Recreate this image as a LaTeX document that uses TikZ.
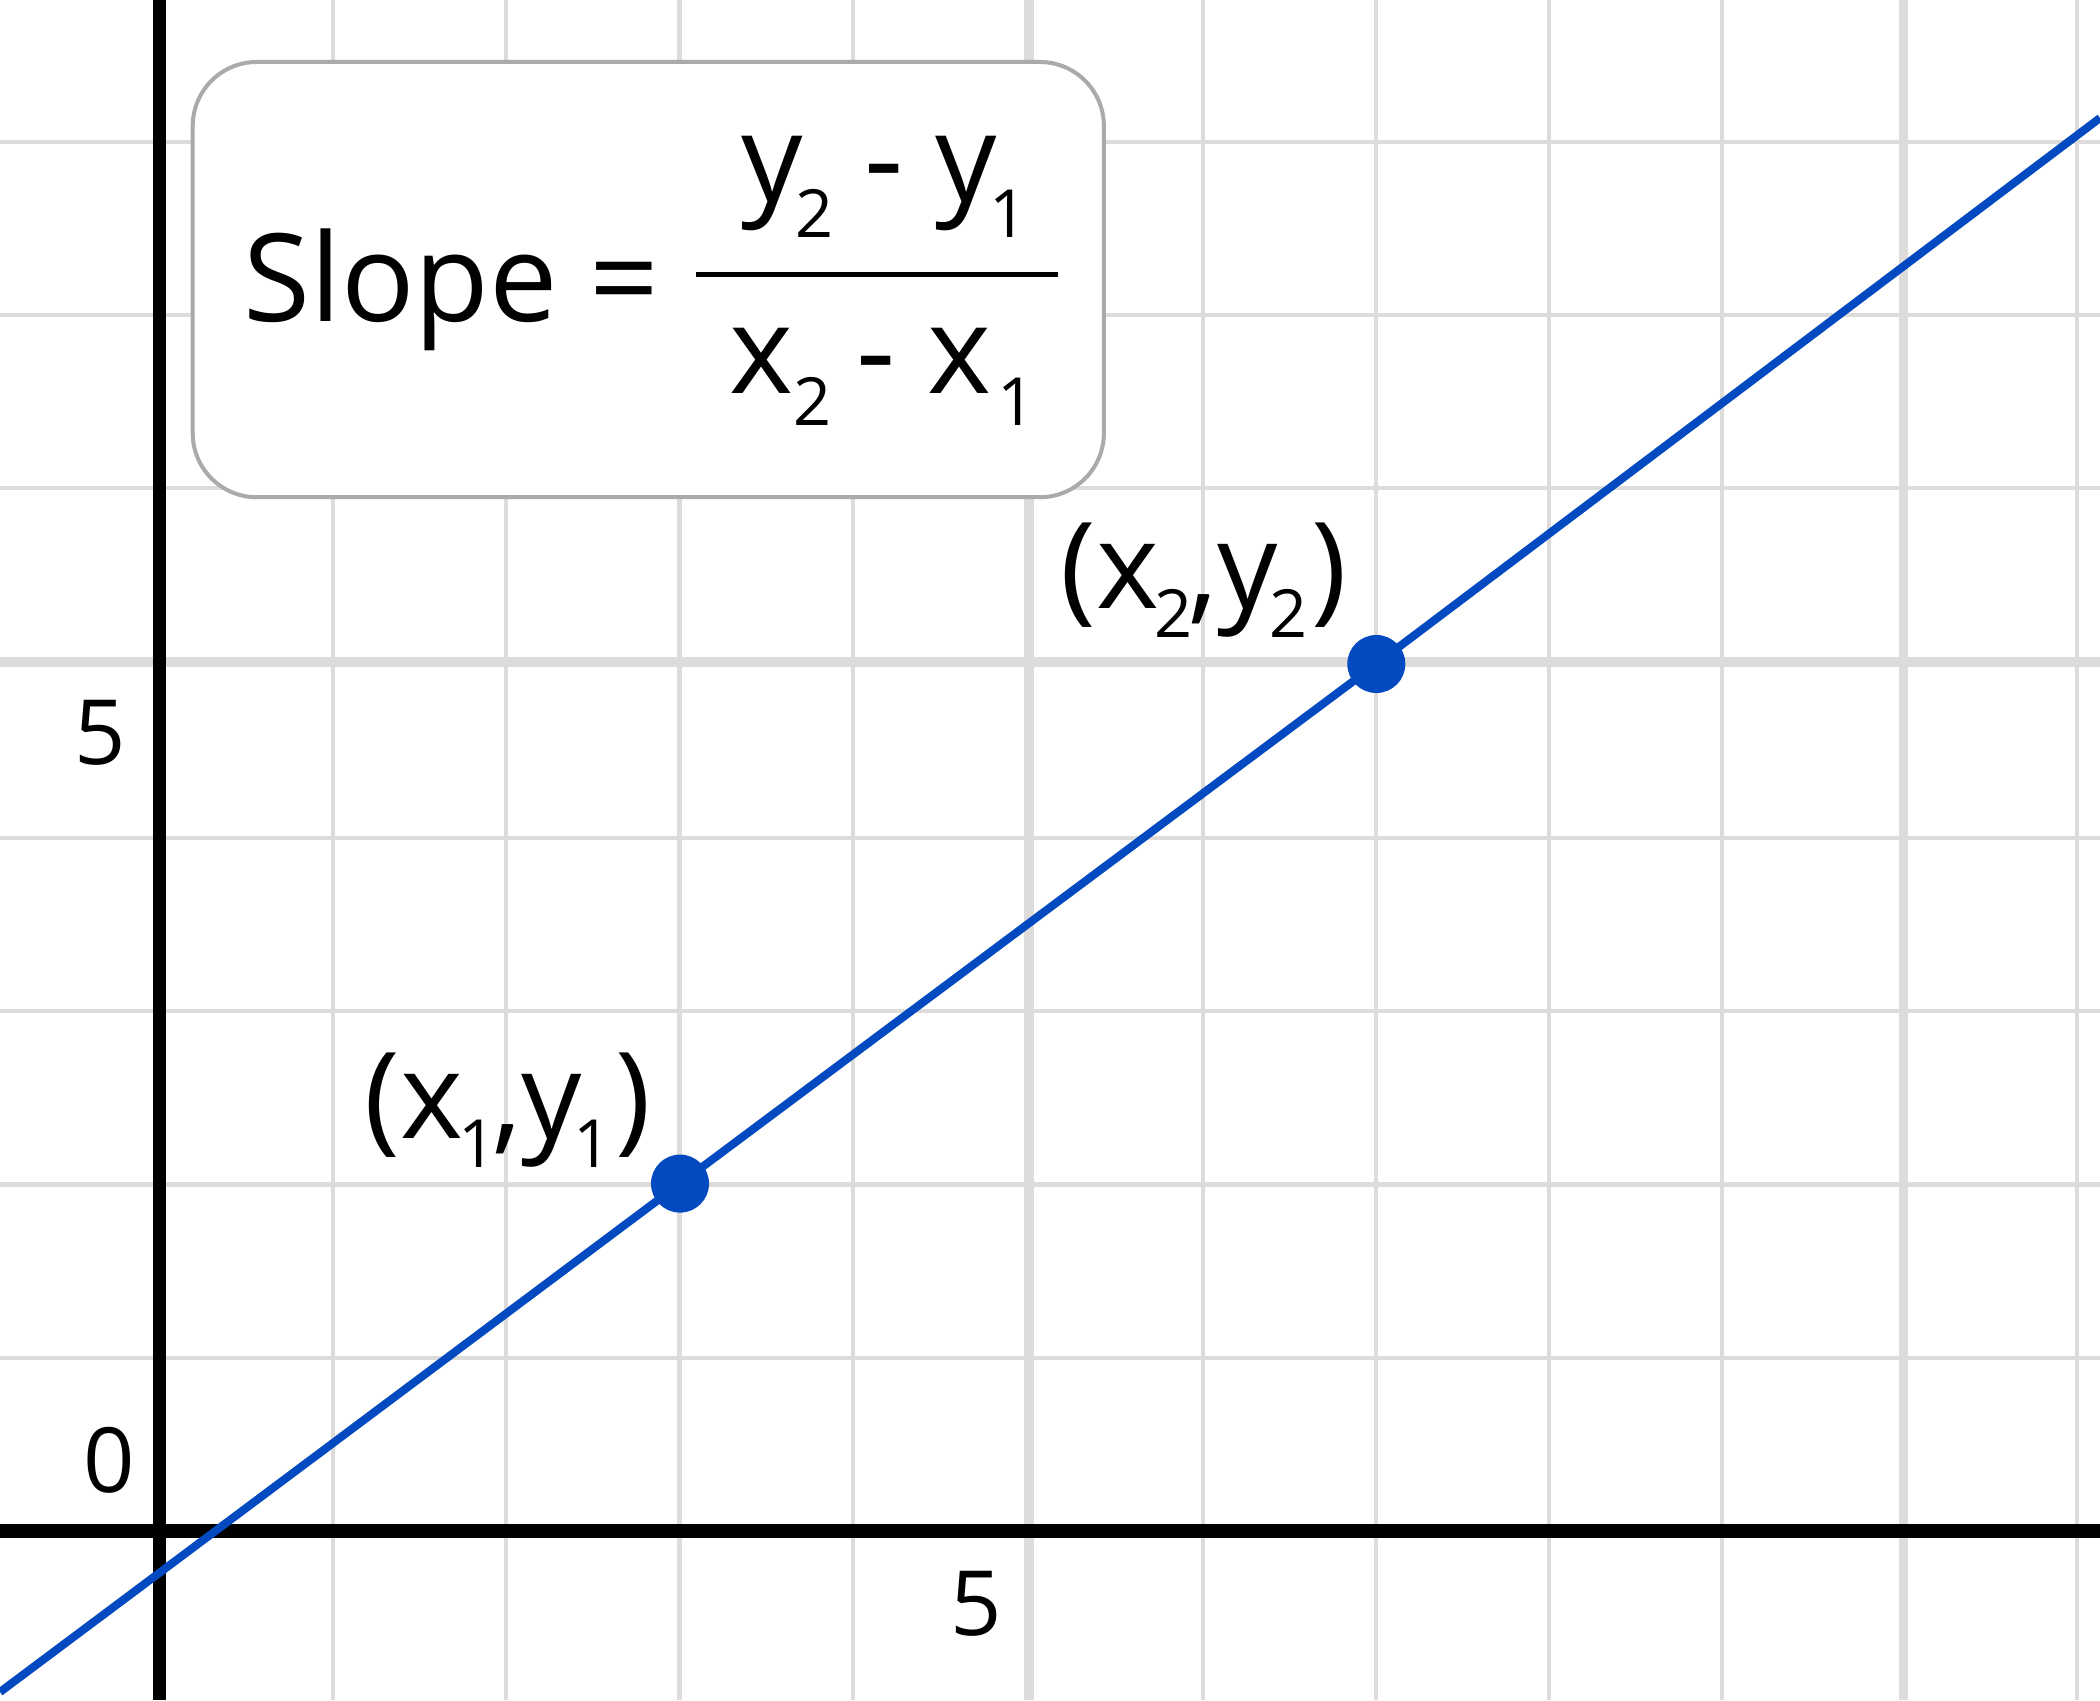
\documentclass[tikz,border=0pt]{standalone}
\usepackage{fontspec}
\setmainfont{Open Sans}
\definecolor{gridc}{HTML}{DDDCDA}
\definecolor{lineblue}{HTML}{0349C0}
\definecolor{boxc}{HTML}{AAAAAA}
\newcommand\subsc[2][9pt]{\raisebox{-#1}{\fontsize{18.9pt}{20pt}\selectfont #2}}
\tikzset{
  gridthin/.style={draw=gridc, line width=1.25pt},
  gridthick/.style={draw=gridc, line width=2.7pt},
  axisline/.style={draw=black, line width=3.75pt},
  blueline/.style={draw=lineblue, line width=2.3pt},
  dotnode/.style={circle, fill=lineblue, minimum size=0.58cm, inner sep=0pt},
  formbox/.style={draw=boxc, line width=1.14pt, fill=white, rounded corners=0.64cm,
    minimum width=9.106cm, minimum height=4.35cm, inner sep=0pt},
  bigtxt/.style={inner sep=0pt, anchor=base west, font=\fontsize{34.7pt}{40pt}\selectfont},
  lbltxt/.style={inner sep=0pt, anchor=base west, font=\fontsize{34.1pt}{40pt}\selectfont},
  ticktxt/.style={inner sep=0pt, anchor=base west, font=\fontsize{25.6pt}{30pt}\selectfont},
}
\begin{document}
\begin{tikzpicture}[x=0.01cm,y=-0.01cm]
\useasboundingbox (0,0) rectangle (2100,1700);
\fill[white] (0,0) rectangle (2100,1700);
% grid
\foreach \x in {333,506,679.5,853,1202.7,1376,1548.7,1722,2077}
  \draw[gridthin] (\x,0) -- (\x,1700);
\foreach \x in {1029,1903.6}
  \draw[gridthick] (\x,0) -- (\x,1700);
\foreach \y in {141.8,315,488,837.8,1011.2,1184.6,1357.9}
  \draw[gridthin] (0,\y) -- (2100,\y);
\draw[gridthick] (0,661.8) -- (2100,661.8);
% axes
\draw[axisline] (159.8,0) -- (159.8,1700);
\draw[axisline] (0,1531) -- (2100,1531);
% tick labels
\node[ticktxt] (t5y) at (74,764.7) {5};
\node[ticktxt] (t0) at (83,1492.9) {0};
\node[ticktxt] (t5x) at (950,1635.7) {5};
% formula box
\node[formbox] (box) at (648.3,279.6) {};
\node[bigtxt] (slope) at (242.7,321.4) {Slope =};
\node[bigtxt] (num) at (741,201.8) {y\kern-2.3pt\subsc[10.2pt]{2} - y\kern-2.3pt\subsc[10.2pt]{1}};
\node[bigtxt] (den) at (729,393) {x\subsc[9.1pt]{2}\kern-2pt{} - x\kern1.7pt\subsc[9.1pt]{1}};
\coordinate (barL) at (696,274.3);
\coordinate (barR) at (1057.6,274.3);
\draw[line width=1.28pt] (barL) -- (barR);
% line
\coordinate (lstart) at (0,1692);
\coordinate (lend) at (2100,118);
\coordinate (c1) at (680,1183.6);
\coordinate (c2) at (1376.3,664);
\draw[blueline] (lstart) -- (c1) -- (c2) -- (lend);
\node[dotnode] (p1) at (c1) {};
\node[dotnode] (p2) at (c2) {};
% point labels
\node[lbltxt] (lab1) at (364,1138) {(x\kern-1.4pt\subsc[8.25pt]{1}\kern-1.15pt,y\kern-2.3pt\subsc[8.25pt]{1}\kern1.15pt)};
\node[lbltxt] (lab2) at (1060,608.5) {(x\kern-1.4pt\subsc[8.25pt]{2}\kern-1.15pt,y\kern-2.3pt\subsc[8.25pt]{2}\kern1.15pt)};
\end{tikzpicture}
\end{document}
